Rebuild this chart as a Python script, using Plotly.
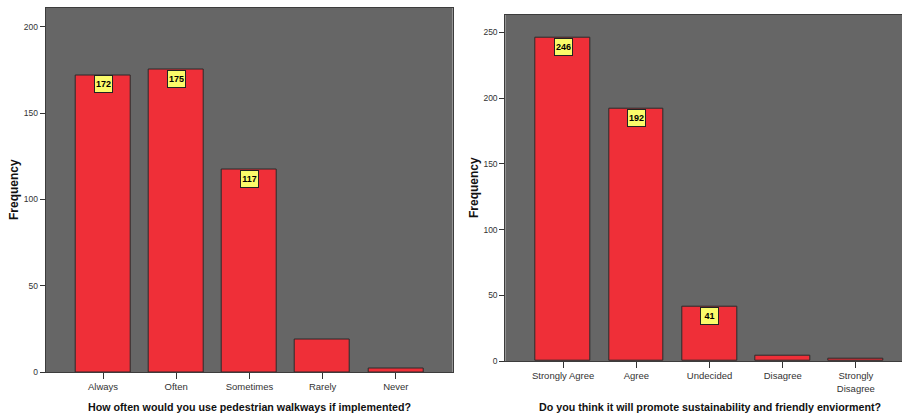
import plotly.graph_objects as go

# Survey responses: pedestrian walkway usage
use_categories = ["Always", "Often", "Sometimes", "Rarely", "Never"]
use_counts = [172, 175, 117, 19, 2]
use_labelled = [True, True, True, False, False]
use_ticks = [0, 50, 100, 150, 200]

# Survey responses: sustainability / friendly environment
env_categories = ["Strongly Agree", "Agree", "Undecided", "Disagree", "Strongly<br>Disagree"]
env_counts = [246, 192, 41, 4, 2]
env_labelled = [True, True, True, False, False]
env_ticks = [0, 50, 100, 150, 200, 250]

W, H = 902, 418
BAR = "#ef2f38"
EDGE = "#2b2b2b"
PLOT_BG = "#666666"
FRAME = "#3c3c3c"
TEXT = "#333333"
LABEL_BG = "#fbfb6a"

SANS = "Liberation Sans, Arial, sans-serif"
TICK_FONT = dict(family=SANS, size=9.5, color=TEXT)
YTICK_FONT = dict(family=SANS, size=8.5, color=TEXT)
TITLE_FONT = dict(family=SANS, size=10.7, color="#111111")
VALUE_FONT = dict(family=SANS, size=9, color="#000000")


def px_x(p):
    return p / W


def px_y(p):
    return (H - p) / H


fig = go.Figure()

fig.add_trace(go.Bar(
    x=list(range(len(use_categories))), y=use_counts, width=0.75,
    marker=dict(color=BAR, line=dict(color=EDGE, width=1)),
    xaxis="x", yaxis="y", hoverinfo="skip", showlegend=False,
))
fig.add_trace(go.Bar(
    x=list(range(len(env_categories))), y=env_counts, width=0.75,
    marker=dict(color=BAR, line=dict(color=EDGE, width=1)),
    xaxis="x2", yaxis="y2", hoverinfo="skip", showlegend=False,
))

annotations = []


def value_labels(counts, flags, xref, yref):
    for i, (v, show) in enumerate(zip(counts, flags)):
        if not show:
            continue
        annotations.append(dict(
            x=i, y=v, xref=xref, yref=yref, text="<b>%d</b>" % v,
            showarrow=False, xanchor="center", yanchor="top",
            bgcolor=LABEL_BG, bordercolor="#222222", borderwidth=1, borderpad=1,
            width=15, height=14, font=VALUE_FONT,
        ))


value_labels(use_counts, use_labelled, "x", "y")
value_labels(env_counts, env_labelled, "x2", "y2")

# Axis titles
annotations += [
    dict(text="<b>How often would you use pedestrian walkways if implemented?</b>",
         x=2, xref="x", y=px_y(407), yref="paper", showarrow=False,
         xanchor="center", yanchor="middle", font=TITLE_FONT),
    dict(text="<b>Do you think it will promote sustainability and friendly enviorment?</b>",
         x=2, xref="x2", y=px_y(407), yref="paper", showarrow=False,
         xanchor="center", yanchor="middle", font=TITLE_FONT),
    dict(text="<b>Frequency</b>", textangle=-90,
         x=px_x(14), xref="paper", y=px_y(190), yref="paper", showarrow=False,
         xanchor="center", yanchor="middle",
         font=dict(family=SANS, size=12, color="#111111")),
    dict(text="<b>Frequency</b>", textangle=-90,
         x=px_x(474), xref="paper", y=px_y(188), yref="paper", showarrow=False,
         xanchor="center", yanchor="middle",
         font=dict(family=SANS, size=12, color="#111111")),
]

common_x = dict(
    tickmode="array", ticks="outside", ticklen=6, tickcolor=TEXT, tickwidth=1,
    showline=True, linecolor=FRAME, linewidth=1, mirror=True, automargin=False,
    showgrid=False, zeroline=False, tickfont=TICK_FONT, fixedrange=True,
)
common_y = dict(
    tickmode="array", ticks="outside", ticklen=5, tickcolor=TEXT, tickwidth=1,
    showline=True, linecolor=FRAME, linewidth=1, automargin=False,
    showgrid=False, zeroline=False, tickfont=YTICK_FONT, fixedrange=True,
)

fig.update_layout(
    template="none",
    width=W, height=H,
    margin=dict(l=0, r=0, t=0, b=0, pad=0),
    paper_bgcolor="white", plot_bgcolor=PLOT_BG,
    bargap=0,
    xaxis=dict(domain=[px_x(45.7), px_x(452.7)], range=[-0.783, 4.777],
               tickvals=list(range(len(use_categories))), ticktext=use_categories,
               anchor="y", **common_x),
    yaxis=dict(domain=[px_y(372), px_y(7.5)], range=[0, 211.1],
               tickvals=use_ticks, anchor="x", mirror=True, **common_y),
    xaxis2=dict(domain=[px_x(505.3), 1.0], range=[-0.79, 4.63],
                tickvals=list(range(len(env_categories))), ticktext=env_categories,
                anchor="y2", **common_x),
    yaxis2=dict(domain=[px_y(361), px_y(14.7)], range=[0, 263.5],
                tickvals=env_ticks, anchor="x2", **common_y),
    annotations=annotations,
)

fig.write_html("out.html", config={"displayModeBar": False})
